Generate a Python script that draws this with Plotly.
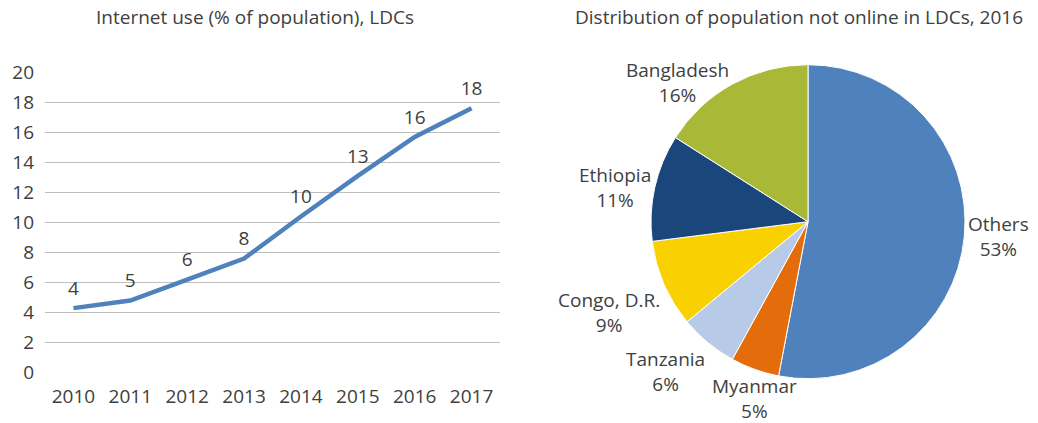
import math
import plotly.graph_objects as go

# Internet use in LDCs, % of population
years = ["2010", "2011", "2012", "2013", "2014", "2015", "2016", "2017"]
internet_use = [4.3, 4.8, 6.2, 7.6, 10.4, 13.1, 15.7, 17.6]

# Population not online in LDCs, 2016 (share, %)
countries = ["Others", "Myanmar", "Tanzania", "Congo, D.R.", "Ethiopia", "Bangladesh"]
shares = [53, 5, 6, 9, 11, 16]
slice_colors = ["#4F81BD", "#E46C0A", "#B7CAE8", "#F9D000", "#1B467C", "#A9B937"]

y_ticks = [0, 2, 4, 6, 8, 10, 12, 14, 16, 18, 20]

W, H = 1038, 423
FONT = "Open Sans"
FS = 19
TXT = "#404040"

# pie placement in pixels (square domain)
PIE_LEFT, PIE_RIGHT = 651, 965
PIE_TOP, PIE_BOTTOM = 64.7, 378.7
LABEL_GAP = 2

fig = go.Figure()

fig.add_trace(go.Scatter(
    x=years, y=internet_use,
    mode="lines+markers+text",
    line=dict(color="#4F81BD", width=4.5),
    marker=dict(size=12, color="rgba(0,0,0,0)"),
    texttemplate="%{y:.0f}",
    textposition="top center",
    textfont=dict(family=FONT, size=FS, color=TXT),
    cliponaxis=False,
    xaxis="x", yaxis="y",
    showlegend=False,
    hoverinfo="skip",
))

fig.add_trace(go.Pie(
    labels=countries, values=shares,
    sort=False, direction="clockwise", rotation=0,
    marker=dict(colors=slice_colors, line=dict(color="white", width=1)),
    textinfo="none",
    automargin=False,
    domain=dict(x=[PIE_LEFT / W, PIE_RIGHT / W], y=[1 - PIE_BOTTOM / H, 1 - PIE_TOP / H]),
    showlegend=False,
    hoverinfo="skip",
))

# outside slice labels, placed just beyond the rim at each slice's mid-angle
cx = (PIE_LEFT + PIE_RIGHT) / 2
cy = (PIE_TOP + PIE_BOTTOM) / 2
radius = (PIE_RIGHT - PIE_LEFT) / 2
total = sum(shares)
pie_labels = []
start = 0.0
for name, val in zip(countries, shares):
    mid = (start + val / 2) / total * 2 * math.pi
    start += val
    sx = math.sin(mid)        # rightwards
    down = -math.cos(mid)     # downwards on screen
    px = cx + (radius + LABEL_GAP) * sx
    py = cy + (radius + LABEL_GAP) * down
    xanchor = "left" if sx > 0.35 else ("right" if sx < -0.35 else "center")
    yanchor = "top" if down > 0.35 else ("bottom" if down < -0.9 else "middle")
    pie_labels.append(dict(
        text=f"{name}<br>{round(val / total * 100)}%",
        x=px / W, y=1 - py / H, xref="paper", yref="paper",
        xanchor=xanchor, yanchor=yanchor, showarrow=False, align="center",
        font=dict(family=FONT, size=FS, color=TXT),
    ))

titles = [
    dict(text="Internet use (% of population), LDCs",
         x=255 / W, y=1 - 17 / H, xref="paper", yref="paper",
         xanchor="center", yanchor="middle", showarrow=False,
         font=dict(family=FONT, size=FS, color=TXT)),
    dict(text="Distribution of population not online in LDCs, 2016",
         x=799 / W, y=1 - 17 / H, xref="paper", yref="paper",
         xanchor="center", yanchor="middle", showarrow=False,
         font=dict(family=FONT, size=FS, color=TXT)),
]

fig.update_layout(
    width=W, height=H,
    margin=dict(l=0, r=0, t=0, b=0),
    paper_bgcolor="white", plot_bgcolor="white",
    font=dict(family=FONT, size=FS, color=TXT),
    xaxis=dict(
        domain=[45 / W, 500 / W],
        type="category", range=[-0.5, 7.5],
        showgrid=False, showline=False, zeroline=False,
        ticks="", ticklabelstandoff=10, automargin=False,
        tickfont=dict(family=FONT, size=FS, color=TXT),
    ),
    yaxis=dict(
        domain=[1 - 372.7 / H, 1 - 72.3 / H],
        range=[0, 20], tickvals=y_ticks,
        showgrid=True, gridcolor="#BFBFBF", gridwidth=1.3,
        zeroline=False, showline=False,
        ticks="", ticklabelstandoff=10, automargin=False,
        tickfont=dict(family=FONT, size=FS, color=TXT),
    ),
    annotations=titles + pie_labels,
)

fig.write_html("out.html")
